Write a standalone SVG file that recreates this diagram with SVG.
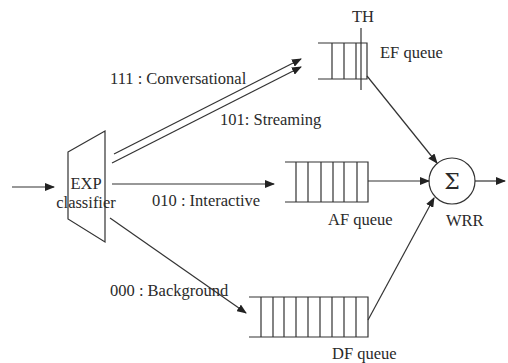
<svg xmlns="http://www.w3.org/2000/svg" width="508" height="363" viewBox="0 0 508 363">
<style>
.l{stroke:#333;stroke-width:1.2;fill:none}
.t{font-family:"Liberation Serif",serif;font-size:16.5px;fill:#2a2a2a}
</style>
<defs>
<marker id="a" markerWidth="10" markerHeight="8" refX="9" refY="4" orient="auto" markerUnits="userSpaceOnUse">
<path d="M0,0 L10,4 L0,8 z" fill="#222"/>
</marker>
</defs>
<rect width="508" height="363" fill="#fff"/>
<g id="classifier">
<path class="l" d="M68,152 L105,131 L105,242 L68,219 Z"/>
<text class="t" x="86" y="189" text-anchor="middle">EXP</text>
<text class="t" x="86" y="208" text-anchor="middle">classifier</text>
</g>
<g id="ef-queue">
<path class="l" d="M318,43 H367 V79 H318 M332,43 V79 M344,43 V79 M356,43 V79"/>
<line class="l" x1="361" y1="28" x2="361" y2="90"/>
<text class="t" x="363" y="22" text-anchor="middle">TH</text>
<text class="t" x="380" y="58">EF queue</text>
</g>
<g id="af-queue">
<path class="l" d="M285,162 H368 V202 H285 M296,162 V202 M308,162 V202 M321,162 V202 M333,162 V202 M344,162 V202 M357,162 V202"/>
<text class="t" x="328" y="225">AF queue</text>
</g>
<g id="df-queue">
<path class="l" d="M249,297 H368 V337 H249 M261,297 V337 M273,297 V337 M284,297 V337 M296,297 V337 M308,297 V337 M320,297 V337 M332,297 V337 M344,297 V337 M356,297 V337"/>
<text class="t" x="332" y="359">DF queue</text>
</g>
<g id="wrr">
<circle class="l" cx="452" cy="181" r="23"/>
<text x="452" y="189" text-anchor="middle" font-family="DejaVu Serif,serif" font-size="22" fill="#2a2a2a">Σ</text>
<text class="t" x="446" y="226">WRR</text>
</g>
<g id="connectors">
<line class="l" x1="12" y1="187" x2="54" y2="187" marker-end="url(#a)"/>
<line class="l" x1="114" y1="154" x2="301" y2="59" marker-end="url(#a)"/>
<line class="l" x1="112" y1="163" x2="301" y2="67" marker-end="url(#a)"/>
<line class="l" x1="112" y1="184" x2="274" y2="184" marker-end="url(#a)"/>
<line class="l" x1="110" y1="218" x2="246" y2="313" marker-end="url(#a)"/>
<line class="l" x1="367" y1="76" x2="437" y2="163" marker-end="url(#a)"/>
<line class="l" x1="368" y1="181" x2="429" y2="181" marker-end="url(#a)"/>
<line class="l" x1="368" y1="320" x2="434" y2="198" marker-end="url(#a)"/>
<line class="l" x1="475" y1="181" x2="505" y2="181" marker-end="url(#a)"/>
<text class="t" x="110" y="84">111 : Conversational</text>
<text class="t" x="220" y="125">101: Streaming</text>
<text class="t" x="152" y="206">010 : Interactive</text>
<text class="t" x="110" y="296">000 : Background</text>
</g>
</svg>
